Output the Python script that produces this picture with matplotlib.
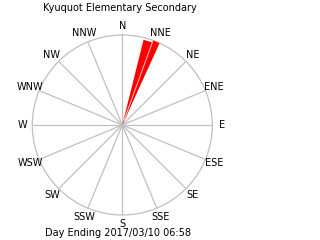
import numpy as np
import matplotlib
matplotlib.use("Agg")
import matplotlib.pyplot as plt

title = "Kyuquot Elementary Secondary"
footer = "Day Ending 2017/03/10 06:58"
compass = ["N", "NNE", "NE", "ENE", "E", "ESE", "SE", "SSE",
           "S", "SSW", "SW", "WSW", "W", "WNW", "NW", "NNW"]
# wind sectors (degrees) and relative length
sector_start = [14.0, 20.0]
sector_end = [20.0, 24.5]
sector_len = [0.975, 1.0]

fig = plt.figure(figsize=(3.2, 2.4), dpi=100)
fig.patch.set_facecolor("white")
cx, cy, R = 122.3, 125.0, 90.0
ax = fig.add_axes([(cx - R) / 320, (240 - cy - R) / 240, 2 * R / 320, 2 * R / 240],
                  projection="polar")
ax.set_theta_zero_location("N")
ax.set_theta_direction(-1)
ax.set_ylim(0, 1)
ax.grid(False)
ax.set_xticks([])
ax.set_yticks([])
ax.spines["polar"].set_color("#c0c0c0")
ax.spines["polar"].set_linewidth(0.9)
ax.set_facecolor("white")

gray = "#c0c0c0"
for i, lab in enumerate(compass):
    th = np.deg2rad(i * 22.5)
    ax.plot([th, th], [0, 1], color=gray, lw=0.9, zorder=1)
    ax.text(th, 1.105, lab, ha="center", va="center", fontsize=7,
            color="black", clip_on=False)

for s, e, L in zip(sector_start, sector_end, sector_len):
    t0, t1 = np.deg2rad(s), np.deg2rad(e)
    ax.bar((t0 + t1) / 2, L, width=(t1 - t0), bottom=0, color="red",
           edgecolor="none", zorder=3, align="center")
# thin separation between sectors
th = np.deg2rad(sector_end[0])
ax.plot([th, th], [0.05, sector_len[0]], color="#ffc0c0", lw=0.7, zorder=4)

fig.text(119.5 / 320, 1 - 8 / 240, title, ha="center", va="center", fontsize=7)
fig.text(118 / 320, 1 - 233 / 240, footer, ha="center", va="center", fontsize=7)

fig.savefig("out.png", dpi=100, facecolor="white")
